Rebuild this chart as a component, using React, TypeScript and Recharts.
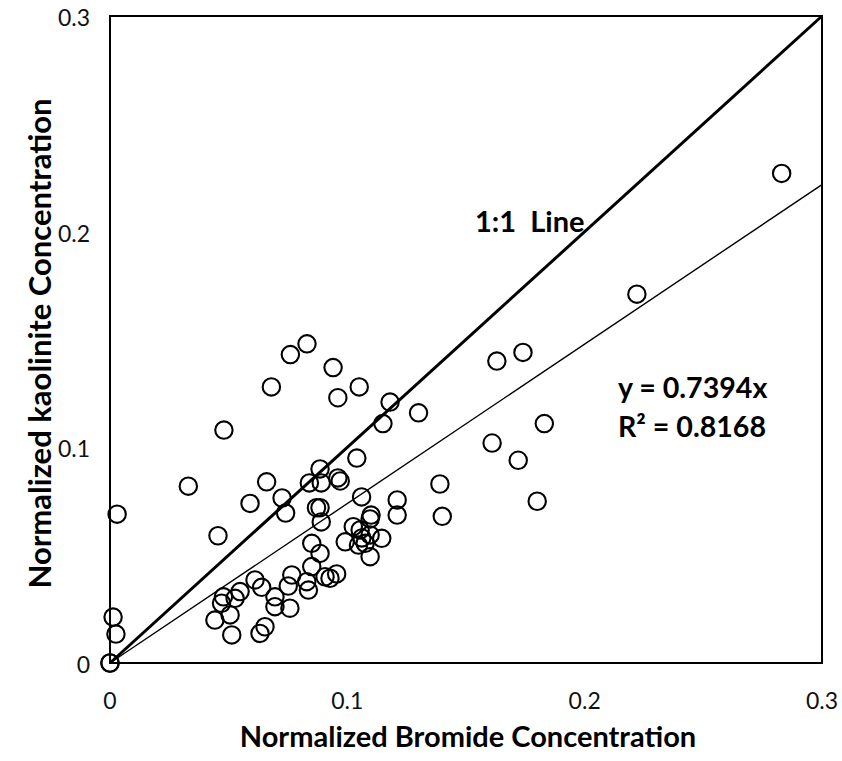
import {
  ScatterChart,
  Scatter,
  XAxis,
  YAxis,
  ReferenceLine,
  ReferenceArea,
  ReferenceDot,
} from "recharts";

// normalized concentrations
const bromide = [
  0.283, 0.222, 0.163, 0.174, 0.183, 0.161, 0.172, 0.139, 0.18, 0.14,
  0.083, 0.076, 0.094, 0.068, 0.105, 0.096, 0.118, 0.13, 0.115, 0.048,
  0.104, 0.033, 0.003, 0.066, 0.059, 0.0725, 0.074, 0.0885, 0.084, 0.089,
  0.096, 0.097, 0.106, 0.121, 0.121, 0.087, 0.0885, 0.089, 0.0455, 0.11,
  0.1096, 0.1025, 0.1054, 0.1061, 0.1096, 0.1145, 0.0991, 0.1047, 0.1075, 0.1096,
  0.085, 0.0885, 0.085, 0.0955, 0.0927, 0.0766, 0.0829, 0.0751, 0.0836, 0.0611,
  0.0639, 0.0695, 0.0695, 0.0758, 0.0548, 0.0527, 0.0478, 0.047, 0.0506, 0.0442,
  0.0513, 0.0653, 0.0632, 0.0013, 0.0025, 0, 0, 0.0906,
];
const kaolinite = [
  0.227, 0.171, 0.14, 0.144, 0.111, 0.102, 0.094, 0.083, 0.075, 0.068,
  0.148, 0.143, 0.137, 0.128, 0.128, 0.123, 0.121, 0.116, 0.111, 0.108,
  0.095, 0.082, 0.069, 0.084, 0.074, 0.0765, 0.0695, 0.09, 0.0835, 0.0835,
  0.0858, 0.0844, 0.077, 0.0756, 0.0686, 0.072, 0.072, 0.0654, 0.059, 0.0686,
  0.0668, 0.0632, 0.0617, 0.058, 0.0594, 0.0578, 0.0562, 0.0547, 0.0555, 0.0493,
  0.0555, 0.0508, 0.0447, 0.0413, 0.0393, 0.0408, 0.0377, 0.0357, 0.0338, 0.0385,
  0.0351, 0.0307, 0.0261, 0.0254, 0.0331, 0.03, 0.0307, 0.0277, 0.0223, 0.0199,
  0.013, 0.0168, 0.0137, 0.0213, 0.0134, 0, 0, 0.04,
];
const ticks = [0, 0.1, 0.2, 0.3];
const slope = 0.7394;
const r2 = "0.8168";

const points = bromide.map((x, i) => ({ x, y: kaolinite[i] }));

const font = "Lato, 'Open Sans', sans-serif";

const Ring = (props: any) => (
  <circle cx={props.cx} cy={props.cy} r={8.7} fill="none" stroke="#000" strokeWidth={2.1} />
);

// Excel-like tick labels, no tick marks
const XTick = (props: any) => (
  <text x={props.x} y={props.y + 38} textAnchor="middle" fontFamily={font} fontSize={23} fill="#111">
    {props.payload.value}
  </text>
);
const YTick = (props: any) => (
  <text x={props.x - 12} y={props.y + 10} textAnchor="end" fontFamily={font} fontSize={23} fill="#111">
    {props.payload.value}
  </text>
);

const note = (text: string, size: number) => (props: any) => {
  const vb = props.viewBox;
  return (
    <text
      x={vb.x}
      y={vb.y}
      fontFamily={font}
      fontWeight={700}
      fontSize={size}
      fill="#000"
      style={{ whiteSpace: "pre" }}
    >
      {text}
    </text>
  );
};

export default function App() {
  return (
    <>
      <style>{`body { margin: 0; }`}</style>
      <ScatterChart
        width={842}
        height={761}
        margin={{ top: 16, right: 20, left: 0, bottom: 0 }}
      >
        <XAxis
          type="number"
          dataKey="x"
          domain={[0, 0.3]}
          ticks={ticks}
          height={98}
          axisLine={false}
          tickLine={false}
          tick={<XTick />}
          label={(p: any) => (
            <text
              x={p.viewBox.x + p.viewBox.width / 2 + 2}
              y={p.viewBox.y + 84}
              textAnchor="middle"
              fontFamily={font}
              fontWeight={700}
              fontSize={29}
              fill="#000"
            >
              Normalized Bromide Concentration
            </text>
          )}
        />
        <YAxis
          type="number"
          dataKey="y"
          domain={[0, 0.3]}
          ticks={ticks}
          width={110}
          axisLine={false}
          tickLine={false}
          tick={<YTick />}
          label={(p: any) => {
            const cx = p.viewBox.x + 51;
            const cy = p.viewBox.y + p.viewBox.height / 2 + 4;
            return (
              <text
                x={cx}
                y={cy}
                textAnchor="middle"
                transform={`rotate(-90 ${cx} ${cy})`}
                fontFamily={font}
                fontWeight={700}
                fontSize={31}
                fill="#000"
              >
                Normalized kaolinite Concentration
              </text>
            );
          }}
        />
        <ReferenceArea x1={0} x2={0.3} y1={0} y2={0.3} fill="none" stroke="#000" strokeWidth={2} />
        <ReferenceLine
          segment={[
            { x: 0, y: 0 },
            { x: 0.3, y: 0.3 },
          ]}
          stroke="#000"
          strokeWidth={3}
        />
        <ReferenceLine
          segment={[
            { x: 0, y: 0 },
            { x: 0.3, y: slope * 0.3 },
          ]}
          stroke="#000"
          strokeWidth={1.4}
        />
        <Scatter data={points} shape={Ring} isAnimationActive={false} />
        <ReferenceDot x={0.1538} y={0.1998} r={0} stroke="none" label={note("1:1  Line", 29)} />
        <ReferenceDot x={0.214} y={0.1229} r={0} stroke="none" label={note(`y = ${slope}x`, 28.6)} />
        <ReferenceDot x={0.214} y={0.1048} r={0} stroke="none" label={note(`R² = ${r2}`, 28.6)} />
      </ScatterChart>
    </>
  );
}
